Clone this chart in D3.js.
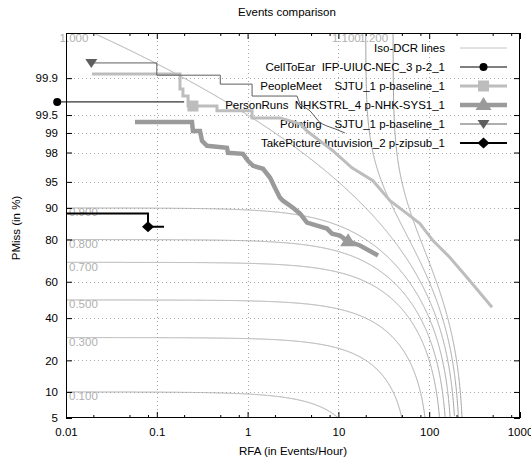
<!DOCTYPE html>
<html>
<head>
<meta charset="utf-8">
<script src="https://cdn.jsdelivr.net/npm/d3@7"></script>
<style>
  body { margin: 0; background: #fff; }
  text { font-family: "Liberation Sans", Arial, sans-serif; }
</style>
</head>
<body>
<svg id="chart" width="531" height="463"></svg>
<script>
// axis ticks
var xTicks = [0.01, 0.1, 1, 10, 100, 1000];
var xTickLabels = ["0.01", "0.1", "1", "10", "100", "1000"];
var xMinorSteps = [2, 5, 8];
var yTicks = [5, 10, 20, 40, 60, 80, 90, 95, 98, 99, 99.5, 99.9];

// iso-DCR lines, DCR = PMiss + beta * RFA
var isoValues = [0.1, 0.3, 0.5, 0.7, 0.8, 0.9, 1.0, 1.1, 1.2];
var beta = 0.005;

// DET curves, [RFA, PMiss %]
var cellToEar = [[0.008, 99.71], [0.2, 99.71]];
var peopleMeet = [[0.0193, 99.918], [0.18, 99.918], [0.18, 99.835], [0.194, 99.835], [0.194, 99.775],
  [0.221, 99.775], [0.221, 99.655], [0.46, 99.655], [0.46, 99.58], [1.12, 99.58], [1.12, 99.44],
  [2.27, 99.44], [3.78, 99.29], [4.51, 99.07], [8.73, 98.11], [14.1, 96.72], [24, 95.16], [37, 91.67],
  [57, 88.53], [79, 85.61], [110, 79.6], [169, 72.3], [261, 62.3], [492, 45.9]];
var personRuns = [[0.0575, 99.34], [0.244, 99.34], [0.25, 99.07], [0.299, 99.07], [0.315, 98.67],
  [0.357, 98.41], [0.593, 98.3], [0.608, 97.98], [0.889, 97.91], [1.01, 97.37], [1.15, 96.92],
  [1.48, 96.62], [1.77, 95.56], [2.0, 94.1], [2.27, 92.28], [2.45, 91.67], [3.16, 90.07], [3.78, 88.53],
  [4.51, 85.94], [5.81, 84.98], [7.49, 83.99], [8.5, 82.22], [10.4, 81.5], [12.8, 79.3], [17.3, 77.6],
  [27.3, 73.2]];
var pointing = [[0.019, 99.952], [0.1, 99.952], [0.1, 99.913], [0.5, 99.913], [0.5, 99.868],
  [1.12, 99.868], [1.12, 99.775], [3.5, 99.775], [3.78, 99.68], [4.87, 99.58], [6.27, 99.32],
  [7.49, 99.23], [9.2, 99.14], [11.8, 99.0]];
var takePicture = [[0.01, 88.6], [0.08, 88.6], [0.08, 84.6], [0.12, 84.6]];

// actual decision points
var cellToEarMark = [0.008, 99.71];
var peopleMeetMark = [0.25, 99.655];
var personRunsMark = [12.8, 79.3];
var pointingMark = [0.019, 99.952];
var takePictureMark = [0.08, 84.6];

var legendNames = [
  "CellToEar  IFP-UIUC-NEC_3 p-2_1",
  "PeopleMeet    SJTU_1 p-baseline_1",
  "PersonRuns  NHKSTRL_4 p-NHK-SYS1_1",
  "Pointing    SJTU_1 p-baseline_1",
  "TakePicture Intuvision_2 p-zipsub_1"
];

// inverse normal cdf (Acklam)
function probit(p) {
  var a = [-3.969683028665376e+01, 2.209460984245205e+02, -2.759285104469687e+02, 1.383577518672690e+02, -3.066479806614716e+01, 2.506628277459239e+00];
  var b = [-5.447609879822406e+01, 1.615858368580409e+02, -1.556989798598866e+02, 6.680131188771972e+01, -1.328068155288572e+01];
  var c = [-7.784894002430293e-03, -3.223964580411365e-01, -2.400758277161838e+00, -2.549732539343734e+00, 4.374664141464968e+00, 2.938163982698783e+00];
  var d = [7.784695709041462e-03, 3.224671290700398e-01, 2.445134137142996e+00, 3.754408661907416e+00];
  var pl = 0.02425, q, r;
  if (p < pl) {
    q = Math.sqrt(-2 * Math.log(p));
    return (((((c[0]*q+c[1])*q+c[2])*q+c[3])*q+c[4])*q+c[5]) / ((((d[0]*q+d[1])*q+d[2])*q+d[3])*q+1);
  }
  if (p > 1 - pl) {
    q = Math.sqrt(-2 * Math.log(1 - p));
    return -(((((c[0]*q+c[1])*q+c[2])*q+c[3])*q+c[4])*q+c[5]) / ((((d[0]*q+d[1])*q+d[2])*q+d[3])*q+1);
  }
  q = p - 0.5; r = q * q;
  return (((((a[0]*r+a[1])*r+a[2])*r+a[3])*r+a[4])*r+a[5])*q / (((((b[0]*r+b[1])*r+b[2])*r+b[3])*r+b[4])*r+1);
}

// plot box in pixels (window.top is reserved, so prefixed names)
var plotLeft = 66, plotRight = 520, plotTop = 33, plotBottom = 418;
var pTop = 0.9999, pBottom = 0.05;

var x = d3.scaleLog().domain([0.01, 1000]).range([plotLeft, plotRight]);
var y = d3.scaleLinear().domain([probit(pBottom), probit(pTop)]).range([plotBottom, plotTop]);
function py(pct) { return y(probit(pct / 100)); }

var svg = d3.select("#chart");

svg.append("defs").append("clipPath").attr("id", "plotClip")
  .append("rect").attr("x", plotLeft).attr("y", plotTop)
  .attr("width", plotRight - plotLeft).attr("height", plotBottom - plotTop);

// grid
var grid = svg.append("g").attr("stroke", "#aaa").attr("stroke-dasharray", "1,3").attr("stroke-width", 1);
xTicks.slice(1, -1).forEach(function(v) {
  grid.append("line").attr("x1", Math.round(x(v)) + 0.5).attr("x2", Math.round(x(v)) + 0.5)
    .attr("y1", plotTop).attr("y2", plotBottom);
});
yTicks.slice(1).forEach(function(v) {
  grid.append("line").attr("x1", plotLeft).attr("x2", plotRight)
    .attr("y1", Math.round(py(v)) + 0.5).attr("y2", Math.round(py(v)) + 0.5);
});

// iso-DCR lines
var isoColor = "#a4a4a4";
var iso = svg.append("g").attr("clip-path", "url(#plotClip)");
var line = d3.line().x(function(d) { return x(d[0]); }).y(function(d) { return py(d[1]); });

isoValues.forEach(function(dcr) {
  var rMax = (dcr - pBottom) / beta;
  var pts = [];
  var n = 3000;
  for (var i = 0; i <= n; i++) {
    var r = 0.01 * Math.pow(rMax / 0.01, i / n);
    var p = dcr - beta * r;
    if (p <= pTop && p >= pBottom) pts.push([r, p * 100]);
  }
  if (dcr >= 1) pts.unshift([(dcr - pTop) / beta, pTop * 100]);
  iso.append("path").attr("d", line(pts)).attr("fill", "none")
    .attr("stroke", isoColor).attr("stroke-width", 1);
});

// iso-DCR labels
var isoLabels = svg.append("g").attr("fill", "#b0b0b0").style("font-size", "11.5px");
isoValues.forEach(function(dcr) {
  if (dcr < 1) {
    isoLabels.append("text").attr("x", plotLeft + 3).attr("y", py((dcr - beta * 0.01) * 100) + 8.5)
      .text(dcr.toFixed(3));
  } else {
    isoLabels.append("text").attr("x", x((dcr - pTop) / beta) - 5).attr("y", plotTop + 8.5)
      .attr("text-anchor", "end").text(dcr.toFixed(3));
  }
});

// axes
function styleAxis(g) {
  g.select(".domain").remove();
  g.selectAll(".tick line").attr("stroke", "#000");
  g.selectAll("text").attr("fill", "#000")
    .style("font-family", '"Liberation Sans", Arial, sans-serif').style("font-size", "11.5px");
}

var minorTicks = [];
xTicks.slice(0, -1).forEach(function(v) {
  xMinorSteps.forEach(function(m) { minorTicks.push(v * m); });
});

svg.append("g").attr("transform", "translate(0," + plotBottom + ")")
  .call(d3.axisBottom(x).tickValues(xTicks).tickFormat(function(d, i) { return xTickLabels[i]; })
    .tickSizeInner(-6).tickSizeOuter(0).tickPadding(10))
  .call(styleAxis);
svg.append("g").attr("transform", "translate(0," + plotBottom + ")")
  .call(d3.axisBottom(x).tickValues(minorTicks).tickFormat("").tickSizeInner(-3).tickSizeOuter(0))
  .call(styleAxis);
svg.append("g").attr("transform", "translate(0," + plotTop + ")")
  .call(d3.axisTop(x).tickValues(xTicks).tickFormat("").tickSizeInner(-6).tickSizeOuter(0))
  .call(styleAxis);
svg.append("g").attr("transform", "translate(0," + plotTop + ")")
  .call(d3.axisTop(x).tickValues(minorTicks).tickFormat("").tickSizeInner(-3).tickSizeOuter(0))
  .call(styleAxis);

var yProbitTicks = yTicks.map(function(v) { return probit(v / 100); });
svg.append("g").attr("transform", "translate(" + plotLeft + ",0)")
  .call(d3.axisLeft(y).tickValues(yProbitTicks).tickFormat(function(d, i) { return String(yTicks[i]); })
    .tickSizeInner(-6).tickSizeOuter(0).tickPadding(8))
  .call(styleAxis);
svg.append("g").attr("transform", "translate(" + plotRight + ",0)")
  .call(d3.axisRight(y).tickValues(yProbitTicks).tickFormat("").tickSizeInner(-6).tickSizeOuter(0))
  .call(styleAxis);

svg.append("rect").attr("x", plotLeft + 0.5).attr("y", plotTop + 0.5)
  .attr("width", plotRight - plotLeft - 1).attr("height", plotBottom - plotTop - 1)
  .attr("fill", "none").attr("stroke", "#000").attr("stroke-width", 1);

// titles
svg.append("text").attr("x", 287).attr("y", 16).attr("text-anchor", "middle")
  .style("font-size", "11.5px").text("Events comparison");
svg.append("text").attr("x", 293).attr("y", 455).attr("text-anchor", "middle")
  .style("font-size", "11.5px").text("RFA (in Events/Hour)");
svg.append("text").attr("transform", "translate(20,228) rotate(-90)").attr("text-anchor", "middle")
  .style("font-size", "11.5px").text("PMiss (in %)");

// marker shapes
function drawMarker(g, kind, cx, cy, color) {
  if (kind == "circle") {
    g.append("circle").attr("cx", cx).attr("cy", cy).attr("r", 4).attr("fill", color);
  } else if (kind == "square") {
    g.append("rect").attr("x", cx - 5.5).attr("y", cy - 5.5).attr("width", 11).attr("height", 11).attr("fill", color);
  } else if (kind == "up") {
    g.append("path").attr("d", "M" + cx + "," + (cy - 8) + "L" + (cx + 8) + "," + (cy + 5) + "L" + (cx - 8) + "," + (cy + 5) + "Z").attr("fill", color);
  } else if (kind == "down") {
    g.append("path").attr("d", "M" + (cx - 6) + "," + (cy - 4) + "L" + (cx + 6) + "," + (cy - 4) + "L" + cx + "," + (cy + 5) + "Z").attr("fill", color);
  } else if (kind == "diamond") {
    g.append("path").attr("d", "M" + cx + "," + (cy - 5.5) + "L" + (cx + 6) + "," + cy + "L" + cx + "," + (cy + 5.5) + "L" + (cx - 6) + "," + cy + "Z").attr("fill", color);
  }
}

var series = [
  { data: cellToEar, mark: cellToEarMark, color: "#000", width: 1, marker: "circle" },
  { data: peopleMeet, mark: peopleMeetMark, color: "#bdbdbd", width: 3, marker: "square" },
  { data: personRuns, mark: personRunsMark, color: "#9a9a9a", width: 4.5, marker: "up" },
  { data: pointing, mark: pointingMark, color: "#5e5e5e", width: 1, marker: "down" },
  { data: takePicture, mark: takePictureMark, color: "#000", width: 2, marker: "diamond" }
];

// legend
var legendRight = 445, sampleX1 = 460, sampleX2 = 507;
var legendY = [48, 67, 86, 105, 124, 143];
var legend = svg.append("g").style("font-size", "11.5px");
legend.append("text").attr("x", legendRight).attr("y", legendY[0] + 4).attr("text-anchor", "end").text("Iso-DCR lines");
legend.append("line").attr("x1", sampleX1).attr("x2", sampleX2).attr("y1", legendY[0]).attr("y2", legendY[0])
  .attr("stroke", "#c4c4c4").attr("stroke-width", 1);

var curves = svg.append("g");
series.forEach(function(s, i) {
  curves.append("path").attr("d", line(s.data)).attr("fill", "none")
    .attr("stroke", s.color).attr("stroke-width", s.width).attr("stroke-linejoin", "miter");
  drawMarker(curves, s.marker, x(s.mark[0]), py(s.mark[1]), s.color);

  var ly = legendY[i + 1];
  legend.append("text").attr("x", legendRight).attr("y", ly + 4).attr("text-anchor", "end")
    .style("white-space", "pre").text(legendNames[i]);
  legend.append("line").attr("x1", sampleX1).attr("x2", sampleX2).attr("y1", ly).attr("y2", ly)
    .attr("stroke", s.color).attr("stroke-width", s.width);
  drawMarker(legend, s.marker, (sampleX1 + sampleX2) / 2, ly, s.color);
});
</script>
</body>
</html>
